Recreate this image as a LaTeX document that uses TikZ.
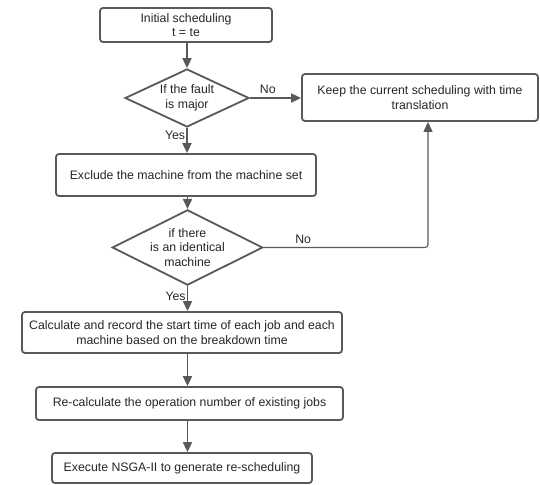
\documentclass[tikz,border=0pt]{standalone}
\usepackage{fontspec}
\setmainfont{Liberation Sans}
\usepackage{tikz}
\usetikzlibrary{positioning,shapes.geometric,arrows.meta}

\begin{document}
\begin{tikzpicture}[x=1pt,y=-1pt,
    font=\fontsize{12.3}{14.5}\selectfont,
    stepbox/.style={draw=black!65,line width=1.8pt,rounded corners=3pt,fill=white,align=center,inner sep=1pt,text=black!85},
    test/.style={diamond,draw=black!65,line width=1.8pt,fill=white,align=center,inner sep=0pt,aspect=2,text=black!85},
    arr/.style={draw=black!65,line width=1.8pt,-{Triangle[length=10pt,width=9pt]}},
    lbl/.style={text=black!85}]
    \useasboundingbox (0,0) rectangle (540,484);
    \node[stepbox,minimum width=172pt,minimum height=34pt] (init) at (186,25) {Initial scheduling\\t = te};
    \node[test,minimum width=124pt,minimum height=58pt] (major) at (187,98) {If the fault\\is major};
    \node[stepbox,minimum width=236pt,minimum height=47pt] (keep) at (420,97.5) {Keep the current scheduling with time\\translation};
    \node[stepbox,minimum width=260pt,minimum height=42pt] (excl) at (186,175) {Exclude the machine from the machine set};
    \node[test,minimum width=149pt,minimum height=69pt] (ident) at (187.5,247.5) {if there\\is an identical\\machine};
    \node[stepbox,minimum width=320pt,minimum height=41pt] (calc) at (182,332.5) {Calculate and record the start time of each job and each\\machine based on the breakdown time};
    \node[stepbox,minimum width=307pt,minimum height=33pt] (recalc) at (189.5,403.5) {Re-calculate the operation number of existing jobs};
    \node[stepbox,minimum width=260pt,minimum height=30pt] (exec) at (182,468) {Execute NSGA-II to generate re-scheduling};
    \coordinate (turn) at (428,247.5);

    \draw[arr] (init.south -| major.north) -- (major.north);
    \draw[arr] (major.east) -- (keep.west |- major.east) node[lbl,pos=0.35,above] {No};
    \draw[arr] (major.south) -- (excl.north -| major.south) node[lbl,pos=0.3,left,inner sep=1pt] {Yes};
    \draw[arr] (excl.south -| ident.north) -- (ident.north);
    \draw[arr,line width=1.1pt,rounded corners=3pt] (ident.east) -- (turn) node[lbl,pos=0.24,above] {No} -- (turn |- keep.south);
    \draw[arr] (ident.south) -- (calc.north -| ident.south) node[lbl,pos=0.4,left,inner sep=1pt] {Yes};
    \draw[arr] (calc.south -| ident.south) -- (recalc.north -| ident.south);
    \draw[arr] (recalc.south -| ident.south) -- (exec.north -| ident.south);
\end{tikzpicture}
\end{document}
